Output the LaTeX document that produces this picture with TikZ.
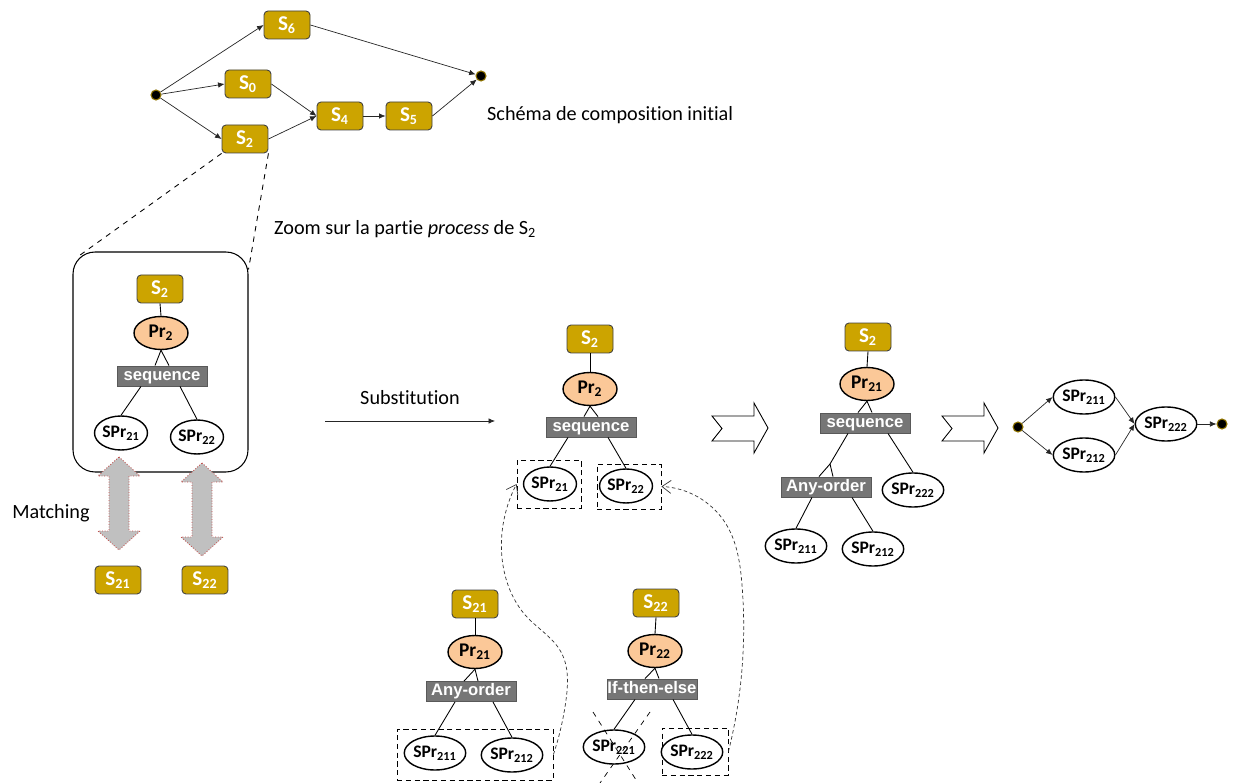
\documentclass[tikz,border=0pt]{standalone}
\usepackage{fontspec}
\setmainfont{Carlito}[Ligatures=NoCommon]
\newfontfamily\arialfont{Liberation Sans}
\usepackage{tikz}
\usetikzlibrary{calc}
\usetikzlibrary{hobby}
\usetikzlibrary{shapes.geometric}
\usetikzlibrary{arrows.meta}
\definecolor{svcgold}{RGB}{204,164,0}
\definecolor{prpeach}{RGB}{251,200,152}
\definecolor{opgray}{RGB}{118,118,118}
\definecolor{arrgray}{RGB}{192,192,192}
\definecolor{arrred}{RGB}{192,80,77}
\tikzset{
    svc/.style={draw=black!75, line width=0.5pt, fill=svcgold, rounded corners=0.08cm, minimum width=0.92cm, minimum height=0.56cm, inner sep=0pt, text=white, font=\fontsize{12}{12}\selectfont\bfseries},
    proc/.style={ellipse, draw, line width=0.8pt, fill=prpeach, minimum width=1.08cm, minimum height=0.66cm, inner sep=0pt, font=\fontsize{11}{11}\selectfont\bfseries},
    sproc/.style={ellipse, draw, line width=0.8pt, fill=white, minimum width=1.06cm, minimum height=0.68cm, inner sep=0pt, font=\fontsize{10}{10}\selectfont\bfseries},
    oper/.style={draw=black!65, line width=0.5pt, fill=opgray, minimum width=1.8cm, minimum height=0.4cm, inner sep=0pt, text height=7pt, text depth=2pt, text=white, font=\arialfont\fontsize{9.5}{9.5}\selectfont\bfseries},
    evdot/.style={circle, draw=svcgold!70!black, line width=0.6pt, fill=black, minimum size=0.2cm, inner sep=0pt},
    flow/.style={-{Latex[length=1.3mm,width=1.1mm]}, black!85, line width=0.4pt},
    link/.style={line width=0.5pt},
    zone/.style={draw, line width=0.6pt, rounded corners=0.44cm},
    dbox/.style={draw, densely dashed, line width=0.5pt},
    reuse/.style={dashed, dash pattern=on 2pt off 1.5pt, line width=0.4pt, black!80, -{Straight Barb[length=1.8mm,width=2.6mm]}},
    fullsize/.style={font=\fontsize{11.5}{13}\selectfont}
}

\begin{document}
\begin{tikzpicture}[x=0.02cm, y=-0.02cm]
\useasboundingbox (0,0) rectangle (1240,783);
% initial composition schema
\foreach \x/\y/\p/\labeltext in {287/25/s6/{S\textsubscript{6}}, 248/84/s0/{S\textsubscript{0}}, 245/139/s2/{S\textsubscript{2}}, 340/116/s4/{S\textsubscript{4}}, 409/116/s5/{S\textsubscript{5}}}{
    \node[svc] (\p) at (\x,\y) {\labeltext};
}
\node[evdot] (d0) at (156,95) {};
\node[evdot] (d1) at (481,76) {};
\foreach \a/\b in {d0/s6.west, d0/s0.west, d0/s2.west, s0.east/s4.west, s2.east/s4.west, s4.east/s5.west, s5.east/d1, s6.east/d1}
    \draw[flow] (\a) -- (\b);
\node[fullsize, anchor=west] (title) at (481,115) {Schéma de composition initial};

% zoom on S2
\node[zone, minimum width=3.5cm, minimum height=4.4cm] (zbox) at (160.5,362) {};
\draw[dashed, line width=0.5pt] (s2.south west) -- ($(zbox.north west)+(7,4)$);
\draw[dashed, line width=0.5pt] (s2.south east) -- ($(zbox.north east)+(0,18)$);
\node[fullsize, anchor=west] (zoomtxt) at (268,229) {Zoom sur la partie \textit{process} de S\textsubscript{2}};
\node[svc] (ls2) at (160,289) {S\textsubscript{2}};
\node[proc] (lpr) at (161,333) {Pr\textsubscript{2}};
\node[oper] (lseq) at (162,376) {sequence};
\node[sproc] (lsp1) at (121,433) {SPr\textsubscript{21}};
\node[sproc] (lsp2) at (197,437) {SPr\textsubscript{22}};

% matching
\foreach \cx/\t/\b in {119/457/550, 202/463/556}
    \draw[fill=arrgray, draw=arrred, densely dotted, line width=0.5pt] (\cx,\t) -- ({\cx+21},{\t+19}) -- ({\cx+10},{\t+19}) -- ({\cx+10},{\b-19}) -- ({\cx+21},{\b-19}) -- (\cx,\b) -- ({\cx-21},{\b-19}) -- ({\cx-10},{\b-19}) -- ({\cx-10},{\t+19}) -- ({\cx-21},{\t+19}) -- cycle;
\node[fullsize] (matchtxt) at (51,513) {Matching};
\node[svc] (lsv1) at (118,580) {S\textsubscript{21}};
\node[svc] (lsv2) at (205,580) {S\textsubscript{22}};

% substitution
\node[fullsize] (subtxt) at (410,398) {Substitution};
\coordinate (subA) at (325,421);
\coordinate (subB) at (495,421);
\draw[flow] (subA) -- (subB);

\node[svc] (ms2) at (590,339) {S\textsubscript{2}};
\node[proc] (mpr) at (590,389) {Pr\textsubscript{2}};
\node[oper] (mseq) at (591,427) {sequence};
\node[dbox, minimum width=1.28cm, minimum height=0.96cm] (mb1) at (549,484) {};
\node[dbox, minimum width=1.28cm, minimum height=0.9cm] (mb2) at (629,486.5) {};
\node[sproc] (msp1) at (550,484) {SPr\textsubscript{21}};
\node[sproc] (msp2) at (626,486) {SPr\textsubscript{22}};

% S21 and S22 trees
\node[svc] (bs1) at (475,604) {S\textsubscript{21}};
\node[proc] (bpr1) at (475,652) {Pr\textsubscript{21}};
\node[oper] (bop1) at (471,691.5) {Any-order};
\node[dbox, minimum width=3.12cm, minimum height=1.02cm] (bb1) at (475,754.5) {};
\node[sproc] (bsp1) at (435,753) {SPr\textsubscript{211}};
\node[sproc] (bsp2) at (512,755) {SPr\textsubscript{212}};

\node[svc] (bs2) at (656,603) {S\textsubscript{22}};
\node[proc] (bpr2) at (655,651) {Pr\textsubscript{22}};
\node[oper] (bop2) at (652,689) {If-then-else};
\node[dbox, minimum width=1.32cm, minimum height=0.94cm] (bb2) at (695,751.5) {};
\node[sproc] (bsp3) at (614,747) {SPr\textsubscript{221}};
\node[sproc] (bsp4) at (692,752) {SPr\textsubscript{222}};
\draw[dashed, line width=0.4pt] ($(bsp3)+(-21,-35)$) -- ($(bsp3)+(24,36)$);
\draw[dashed, line width=0.4pt] ($(bsp3)+(36,-35)$) -- ($(bsp3)+(-14,36)$);

\draw[reuse] (bb1.east) to [curve through={(566,700)..(561,652)..(527,617)..(505,575)..(503,525)}] (mb1.west);
\draw[reuse] (bb2.east) to [curve through={(741,680)..(742,585)..(726,524)..(698,497)}] (mb2.east);

% result
\foreach \x in {712, 942}
    \draw[fill=white, line width=0.5pt] (\x,416) -- ({\x+42},416) -- ({\x+42},403) -- ({\x+56},428) -- ({\x+42},453) -- ({\x+42},441) -- (\x,441) -- ({\x+10},428.5) -- cycle;

\node[svc] (rs2) at (868,337) {S\textsubscript{2}};
\node[proc] (rpr) at (867,384) {Pr\textsubscript{21}};
\node[oper] (rseq) at (865,423) {sequence};
\node[oper] (rany) at (826,487) {Any-order};
\node[sproc] (rsp3) at (913,490) {SPr\textsubscript{222}};
\node[sproc] (rsp1) at (796,546) {SPr\textsubscript{211}};
\node[sproc] (rsp2) at (873,549) {SPr\textsubscript{212}};
\coordinate (rapx) at (830,464);

\node[evdot] (gd0) at (1018,427) {};
\node[sproc] (gsp1) at (1084,397) {SPr\textsubscript{211}};
\node[sproc] (gsp2) at (1084,455) {SPr\textsubscript{212}};
\node[sproc] (gsp3) at (1166,424) {SPr\textsubscript{222}};
\node[evdot] (gd1) at (1222,424) {};
\foreach \a/\b in {gd0/gsp1.west, gd0/gsp2.west, gsp1.east/gsp3.west, gsp2.east/gsp3.west, gsp3.east/gd1}
    \draw[flow] (\a) -- (\b);

% tree links
\foreach \a/\b in {ls2/lpr, ms2/mpr, rs2/rpr, bs1/bpr1, bs2/bpr2}
    \draw[link] (\a.south) -- (\b.north);
\foreach \a/\b in {lpr/lseq, mpr/mseq, rpr/rseq, bpr1/bop1, bpr2/bop2}{
    \draw[link] (\a.south) -- ($(\b.north)+(-7,0)$);
    \draw[link] (\a.south) -- ($(\b.north)+(7,0)$);
}
\draw[link] ($(rseq.south)+(-17,0)$) -- (rapx);
\draw[link] (rapx) -- ($(rany.north)+(-7,0)$);
\draw[link] (rapx) -- ($(rany.north)+(7,0)$);
\foreach \a/\dx/\b in {lseq/-21/lsp1, lseq/18/lsp2, mseq/-23/msp1, mseq/17/msp2, rseq/23/rsp3, rany/-14/rsp1, rany/26/rsp2, bop1/-16/bsp1, bop1/22/bsp2, bop2/-17/bsp3, bop2/21/bsp4}
    \draw[link] ($(\a.south)+(\dx,0)$) -- (\b.north);
\end{tikzpicture}
\end{document}
